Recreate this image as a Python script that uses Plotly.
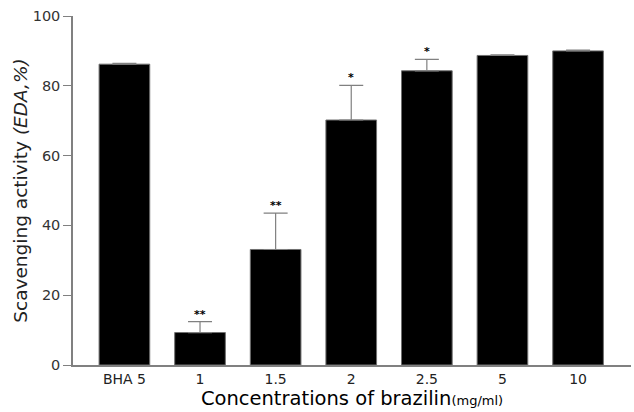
import plotly.graph_objects as go

categories = ["BHA 5", "1", "1.5", "2", "2.5", "5", "10"]
values = [86.2, 9.3, 33.1, 70.2, 84.3, 88.7, 90.0]
errors = [0.2, 3.1, 10.4, 9.9, 3.3, 0.2, 0.2]
marks = ["", "**", "**", "*", "*", "", ""]

FONT = "DejaVu Sans, Liberation Sans, sans-serif"

fig = go.Figure()
fig.add_trace(go.Bar(
    x=categories, y=values,
    marker=dict(color="black", line=dict(color="#707070", width=1)),
    error_y=dict(type="data", array=errors, symmetric=False, arrayminus=[0]*len(errors),
                 color="#808080", thickness=1.2, width=12),
    width=0.67,
))

for i, (v, e, m) in enumerate(zip(values, errors, marks)):
    if m:
        fig.add_annotation(x=i, y=v + e, text="<b>" + m + "</b>", showarrow=False,
                           xref="x", yref="y", yanchor="bottom", yshift=-1,
                           font=dict(size=11, color="black", family=FONT))

fig.update_layout(
    width=634, height=412,
    margin=dict(l=73, r=3, t=16, b=47),
    paper_bgcolor="white", plot_bgcolor="white",
    showlegend=False,
    font=dict(family=FONT, color="#222"),
    xaxis=dict(
        type="category", range=[-0.68, 6.70],
        showline=True, linecolor="#808080", linewidth=1.5,
        ticks="", tickfont=dict(size=14, color="#222"),
        title=dict(text="Concentrations of brazilin<span style='font-size:13px'>(mg/ml)</span>",
                   font=dict(size=19.5, color="black"), standoff=1),
        showgrid=False, zeroline=False,
    ),
    yaxis=dict(
        range=[0, 100], tickvals=[0, 20, 40, 60, 80, 100],
        showline=True, linecolor="#808080", linewidth=1.5,
        ticks="outside", ticklen=8, tickcolor="#808080", tickwidth=1,
        tickfont=dict(size=14.5, color="#333"),
        title=dict(text="Scavenging activity <i>(EDA,%)</i>",
                   font=dict(size=18.5, color="#222"), standoff=0),
        showgrid=False, zeroline=False,
    ),
)

fig.write_html("out.html")
